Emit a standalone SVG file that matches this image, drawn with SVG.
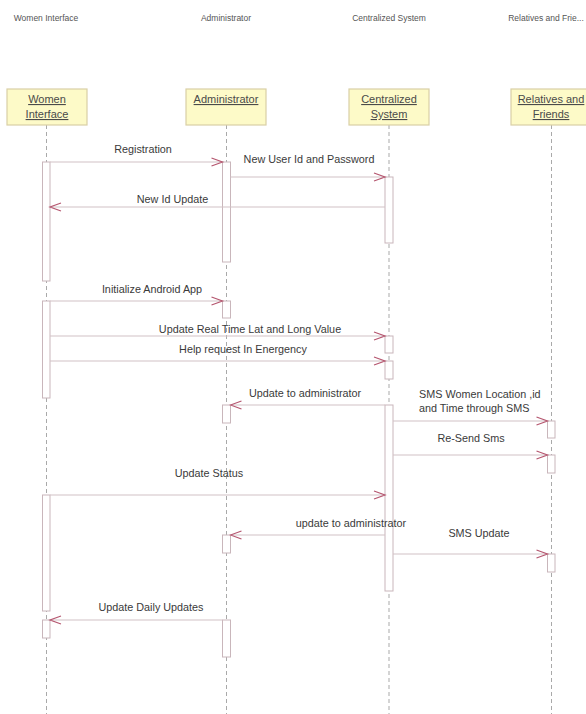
<svg xmlns="http://www.w3.org/2000/svg" width="586" height="714" viewBox="0 0 586 714">
<defs>
<style>
.hdr{font-family:"Liberation Sans",Arial,sans-serif;font-size:8.5px;fill:#555;text-anchor:middle}
.box{fill:#fdfac8;stroke:#d9cfa6;stroke-width:1.2}
.bt{font-family:"Liberation Sans",Arial,sans-serif;font-size:11px;fill:#4a4a4a;text-anchor:middle;text-decoration:underline}
.life{stroke:#a9a9a9;stroke-width:1;stroke-dasharray:4 3;fill:none}
.act{fill:#fff;stroke:#c9b6bb;stroke-width:1}
.msg{stroke:#d2c2c6;stroke-width:1.2;fill:none}
.lbl{font-family:"Liberation Sans",Arial,sans-serif;font-size:10.8px;fill:#3a3a3a;text-anchor:middle}
</style>
<marker id="ah" markerWidth="14" markerHeight="10" refX="12" refY="5" orient="auto" markerUnits="userSpaceOnUse">
<path d="M1,1 L12,5 L1,9" fill="none" stroke="#b5566f" stroke-width="1.2"/>
</marker>
</defs>
<rect width="586" height="714" fill="#fff"/>
<g id="header-labels">
<text class="hdr" x="46" y="21">Women Interface</text>
<text class="hdr" x="226" y="21">Administrator</text>
<text class="hdr" x="389" y="21">Centralized System</text>
<text class="hdr" x="546" y="21">Relatives and Frie...</text>
</g>
<g id="lifelines">
<line class="life" x1="46.5" y1="125" x2="46.5" y2="714"/>
<line class="life" x1="226.5" y1="125" x2="226.5" y2="714"/>
<line class="life" x1="389" y1="125" x2="389" y2="714"/>
<line class="life" x1="551.5" y1="125" x2="551.5" y2="714"/>
</g>
<g id="women">
<rect class="box" x="7" y="89" width="80" height="36"/>
<text class="bt" x="47" y="103">Women</text>
<text class="bt" x="47" y="118">Interface</text>
</g>
<g id="administrator">
<rect class="box" x="186" y="89" width="80" height="36"/>
<text class="bt" x="226" y="103">Administrator</text>
</g>
<g id="centralized">
<rect class="box" x="349" y="89" width="80" height="36"/>
<text class="bt" x="389" y="103">Centralized</text>
<text class="bt" x="389" y="118">System</text>
</g>
<g id="relatives">
<rect class="box" x="511" y="89" width="80" height="36"/>
<text class="bt" x="551" y="103">Relatives and</text>
<text class="bt" x="551" y="118">Friends</text>
</g>
<g id="activations">
<rect class="act" x="42.5" y="162" width="7.5" height="119"/>
<rect class="act" x="42.5" y="301" width="7.5" height="97"/>
<rect class="act" x="42.5" y="495" width="7.5" height="116"/>
<rect class="act" x="42.5" y="620" width="7.5" height="18"/>
<rect class="act" x="222.5" y="162" width="8" height="100"/>
<rect class="act" x="222.5" y="301" width="8" height="17"/>
<rect class="act" x="222.5" y="405" width="8" height="18"/>
<rect class="act" x="222.5" y="535" width="8" height="18"/>
<rect class="act" x="222.5" y="620" width="8" height="37"/>
<rect class="act" x="385" y="177" width="8" height="66"/>
<rect class="act" x="385" y="336" width="8" height="17"/>
<rect class="act" x="385" y="361" width="8" height="18"/>
<rect class="act" x="385" y="405" width="8" height="186"/>
<rect class="act" x="547.5" y="421" width="7.5" height="17"/>
<rect class="act" x="547.5" y="455" width="7.5" height="18"/>
<rect class="act" x="547.5" y="554" width="7.5" height="18"/>
</g>
<g id="connectors">
<line class="msg" x1="50" y1="162" x2="222.5" y2="162" marker-end="url(#ah)"/>
<line class="msg" x1="230.5" y1="177" x2="385" y2="177" marker-end="url(#ah)"/>
<line class="msg" x1="385" y1="207" x2="50" y2="207" marker-end="url(#ah)"/>
<line class="msg" x1="50" y1="301" x2="222.5" y2="301" marker-end="url(#ah)"/>
<line class="msg" x1="50" y1="336" x2="385" y2="336" marker-end="url(#ah)"/>
<line class="msg" x1="50" y1="361" x2="385" y2="361" marker-end="url(#ah)"/>
<line class="msg" x1="385" y1="405" x2="230.5" y2="405" marker-end="url(#ah)"/>
<line class="msg" x1="393" y1="421" x2="547.5" y2="421" marker-end="url(#ah)"/>
<line class="msg" x1="393" y1="455" x2="547.5" y2="455" marker-end="url(#ah)"/>
<line class="msg" x1="50" y1="495" x2="385" y2="495" marker-end="url(#ah)"/>
<line class="msg" x1="385" y1="535" x2="230.5" y2="535" marker-end="url(#ah)"/>
<line class="msg" x1="393" y1="554" x2="547.5" y2="554" marker-end="url(#ah)"/>
<line class="msg" x1="222.5" y1="620" x2="50" y2="620" marker-end="url(#ah)"/>
</g>
<g id="message-labels">
<text class="lbl" x="143" y="153">Registration</text>
<text class="lbl" x="309" y="163">New User Id and Password</text>
<text class="lbl" x="172.5" y="203">New Id Update</text>
<text class="lbl" x="152" y="293">Initialize Android App</text>
<text class="lbl" x="250" y="333">Update Real Time Lat and Long Value</text>
<text class="lbl" x="243" y="353">Help request In Energency</text>
<text class="lbl" x="305" y="397">Update to administrator</text>
<text class="lbl" x="419" y="398" text-anchor="start" style="text-anchor:start">SMS Women Location ,id</text>
<text class="lbl" x="419" y="412" style="text-anchor:start">and Time through SMS</text>
<text class="lbl" x="471" y="442">Re-Send Sms</text>
<text class="lbl" x="209" y="477">Update Status</text>
<text class="lbl" x="351" y="527">update to administrator</text>
<text class="lbl" x="479" y="537">SMS Update</text>
<text class="lbl" x="151" y="611">Update Daily Updates</text>
</g>
</svg>
